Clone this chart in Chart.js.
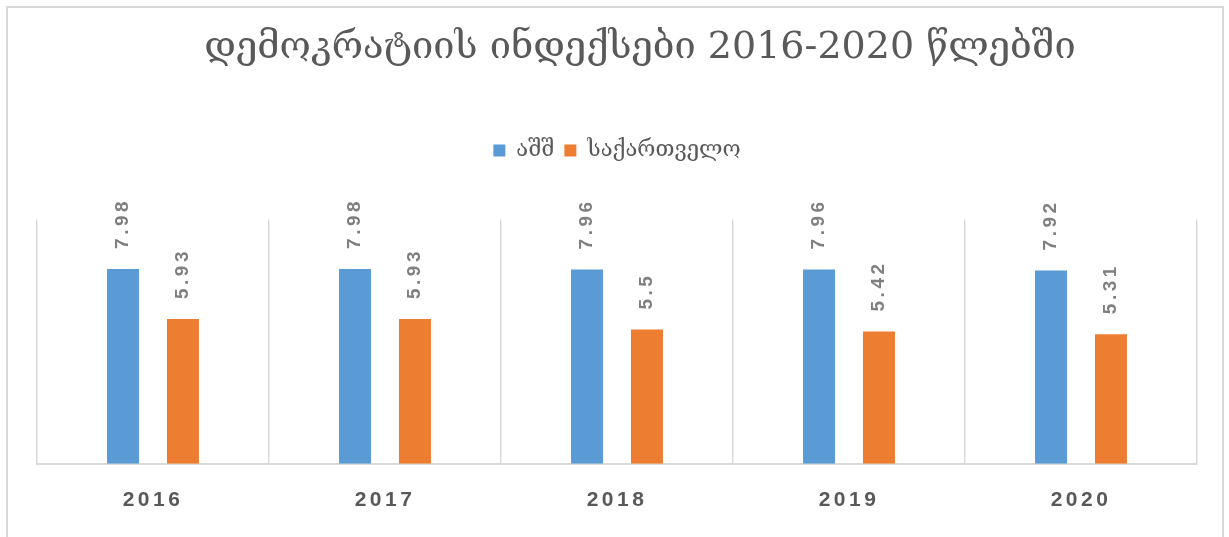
<!DOCTYPE html>
<html lang="ka">
<head>
  <meta charset="UTF-8">
  <title>დემოკრატიის ინდექსები 2016-2020 წლებში</title>
  <script src="https://cdn.jsdelivr.net/npm/chart.js"></script>
  <style>
    body { margin: 0; background: #fff; }
    .frame {
      position: absolute; left: 6px; top: 6px;
      width: 1214px; height: 600px;
      border: 2px solid #d9d9d9;
    }
    #chart { position: absolute; left: 0; top: 0; }
  </style>
</head>
<body>
  <div class="frame"></div>
  <canvas id="chart" width="1229" height="537"></canvas>

  <script>
    const titleText = 'დემოკრატიის ინდექსები 2016-2020 წლებში';
    const years = ['2016', '2017', '2018', '2019', '2020'];
    const usaValues = [7.98, 7.98, 7.96, 7.96, 7.92];
    const georgiaValues = [5.93, 5.93, 5.5, 5.42, 5.31];
    const seriesNames = ['აშშ', 'საქართველო'];

    const georgianFont = "'DejaVu Serif', serif";
    const numberFont = "'Liberation Sans', sans-serif";

    // rotated value labels above each bar
    const valueLabels = {
      id: 'valueLabels',
      afterDatasetsDraw(chart) {
        const ctx = chart.ctx;
        ctx.save();
        ctx.font = 'bold 19px ' + numberFont;
        ctx.fillStyle = '#7f7f7f';
        ctx.letterSpacing = '3.5px';
        ctx.textAlign = 'left';
        ctx.textBaseline = 'middle';
        chart.data.datasets.forEach((ds, i) => {
          chart.getDatasetMeta(i).data.forEach((bar, j) => {
            ctx.save();
            ctx.translate(bar.x, bar.y - 20);
            ctx.rotate(-Math.PI / 2);
            ctx.fillText(String(ds.data[j]), 0, 0);
            ctx.restore();
          });
        });
        ctx.restore();
      }
    };

    // letter spacing for the year labels, extra room under the legend,
    // title nudged a bit right like in the original
    const tweaks = {
      id: 'tweaks',
      beforeLayout(chart) {
        const lg = chart.legend;
        if (lg && !lg._gap) {
          const fit = lg.fit;
          lg.fit = function () { fit.call(this); this.height += 48; };
          lg._gap = true;
        }
        const tb = chart.titleBlock;
        if (tb && !tb._moved) {
          const draw = tb.draw;
          tb.draw = function () {
            this.ctx.save();
            this.ctx.translate(23, 0);
            draw.call(this);
            this.ctx.restore();
          };
          tb._moved = true;
        }
      },
      beforeDraw(chart) {
        const sc = chart.scales.x;
        if (sc && !sc._spaced) {
          const drawLabels = sc.drawLabels;
          sc.drawLabels = function (area) {
            this.ctx.save();
            this.ctx.letterSpacing = '3.5px';
            drawLabels.call(this, area);
            this.ctx.restore();
          };
          sc._spaced = true;
        }
      }
    };

    new Chart(document.getElementById('chart'), {
      type: 'bar',
      data: {
        labels: years,
        datasets: [
          { label: seriesNames[0], data: usaValues, backgroundColor: '#5b9bd5',
            barPercentage: 0.533, categoryPercentage: 0.517 },
          { label: seriesNames[1], data: georgiaValues, backgroundColor: '#ed7d31',
            barPercentage: 0.533, categoryPercentage: 0.517 }
        ]
      },
      options: {
        responsive: false,
        animation: false,
        layout: { padding: { left: 37, right: 32, top: 10, bottom: 0 } },
        plugins: {
          title: {
            display: true,
            text: titleText,
            color: '#595959',
            font: { family: georgianFont, size: 38, weight: 'normal' },
            padding: { top: 15, bottom: 59 }
          },
          legend: {
            position: 'top',
            labels: {
              boxWidth: 12, boxHeight: 12, padding: 10,
              color: '#595959',
              font: { family: georgianFont, size: 22 }
            }
          },
          tooltip: { enabled: false }
        },
        scales: {
          x: {
            grid: { color: '#d9d9d9', lineWidth: 1.5, drawTicks: false, offset: true },
            border: { color: '#d9d9d9', width: 2 },
            ticks: { color: '#595959', padding: 24,
              font: { family: numberFont, size: 21, weight: 'bold' } }
          },
          y: { display: false, min: 0, max: 10 }
        }
      },
      plugins: [valueLabels, tweaks]
    });
  </script>
</body>
</html>
